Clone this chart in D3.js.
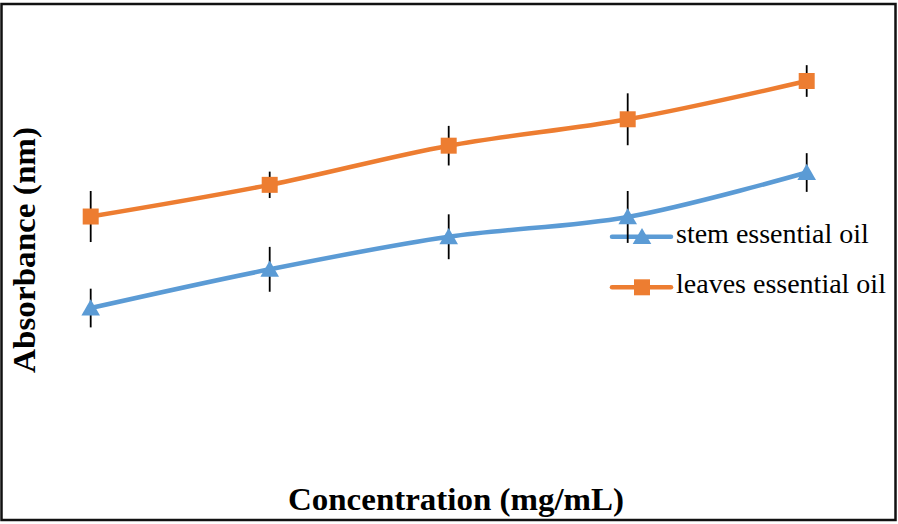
<!DOCTYPE html>
<html>
<head>
<meta charset="utf-8">
<script src="https://cdn.jsdelivr.net/npm/d3@7"></script>
<style>
  html, body { margin: 0; padding: 0; background: #fff; }
  svg { display: block; }
</style>
</head>
<body>
<svg id="chart" width="898" height="524"></svg>
<script>
// ---- data ----
const categories = ["1", "2", "3", "4", "5"];          // concentration levels (no tick labels shown)
const stemValues   = [0.334, 0.422, 0.496, 0.541, 0.642];
const stemErrors   = [0.044, 0.051, 0.051, 0.059, 0.044];
const leavesValues = [0.542, 0.614, 0.703, 0.763, 0.850];
const leavesErrors = [0.058, 0.030, 0.045, 0.059, 0.036];
const seriesNames  = ["stem essential oil", "leaves essential oil"];
const xTitle = "Concentration (mg/mL)";
const yTitle = "Absorbance (nm)";

const series = [
  { name: seriesNames[0], values: stemValues, errors: stemErrors, color: "#5B9BD5", marker: d3.symbolTriangle },
  { name: seriesNames[1], values: leavesValues, errors: leavesErrors, color: "#ED7D31", marker: d3.symbolSquare }
];

const svg = d3.select("#chart");
const FONT = "'Liberation Serif', 'Times New Roman', serif";

// border
svg.append("rect")
  .attr("x", 1.5).attr("y", 4).attr("width", 894).attr("height", 516)
  .attr("fill", "#fff").attr("stroke", "#111").attr("stroke-width", 2.5);

const x = d3.scalePoint().domain(categories).range([90.7, 806.7]).padding(0);
const y = d3.scaleLinear().domain([0, 1]).range([455, 15]);

// legend (drawn beneath the data marks)
const legendY = [236.7, 287.3];
const legend = svg.append("g");
series.forEach((s, i) => {
  const ly = legendY[i];
  const g = legend.append("g");
  g.append("line").attr("x1", 612).attr("x2", 671).attr("y1", ly).attr("y2", ly)
    .attr("stroke", s.color).attr("stroke-width", 4.5).attr("stroke-linecap", "round");
  g.append("path").attr("d", d3.symbol().type(s.marker).size(s.marker === d3.symbolSquare ? 256 : 150)())
    .attr("transform", `translate(642,${ly + (s.marker === d3.symbolTriangle ? 2 : 0)})`)
    .attr("fill", s.color);
  g.append("text").attr("x", 676).attr("y", ly + 6)
    .attr("font-family", FONT).attr("font-size", 28).attr("fill", "#000")
    .text(s.name);
});

// lines
const line = d3.line()
  .x((d, i) => x(categories[i]))
  .y(d => y(d))
  .curve(d3.curveCatmullRom.alpha(0.5));

series.forEach(s => {
  svg.append("path").attr("d", line(s.values))
    .attr("fill", "none").attr("stroke", s.color).attr("stroke-width", 4.5)
    .attr("stroke-linecap", "round").attr("stroke-linejoin", "round");
});

// error bars
series.forEach(s => {
  svg.append("g").selectAll("line").data(s.values).join("line")
    .attr("x1", (d, i) => x(categories[i])).attr("x2", (d, i) => x(categories[i]))
    .attr("y1", (d, i) => y(d + s.errors[i])).attr("y2", (d, i) => y(d - s.errors[i]))
    .attr("stroke", "#000").attr("stroke-width", 1.8);
});

// markers
series.forEach(s => {
  const sym = d3.symbol().type(s.marker).size(s.marker === d3.symbolSquare ? 256 : 150);
  svg.append("g").selectAll("path").data(s.values).join("path")
    .attr("d", sym())
    .attr("transform", (d, i) => `translate(${x(categories[i])},${y(d) + (s.marker === d3.symbolTriangle ? 2 : 0)})`)
    .attr("fill", s.color);
});

// axis titles
svg.append("text")
  .attr("x", 456).attr("y", 510)
  .attr("text-anchor", "middle")
  .attr("font-family", FONT).attr("font-weight", "bold").attr("font-size", 32)
  .attr("textLength", 336).attr("lengthAdjust", "spacingAndGlyphs")
  .text(xTitle);

svg.append("text")
  .attr("transform", "translate(35,250) rotate(-90)")
  .attr("text-anchor", "middle")
  .attr("font-family", FONT).attr("font-weight", "bold").attr("font-size", 32)
  .attr("textLength", 246).attr("lengthAdjust", "spacingAndGlyphs")
  .text(yTitle);
</script>
</body>
</html>
